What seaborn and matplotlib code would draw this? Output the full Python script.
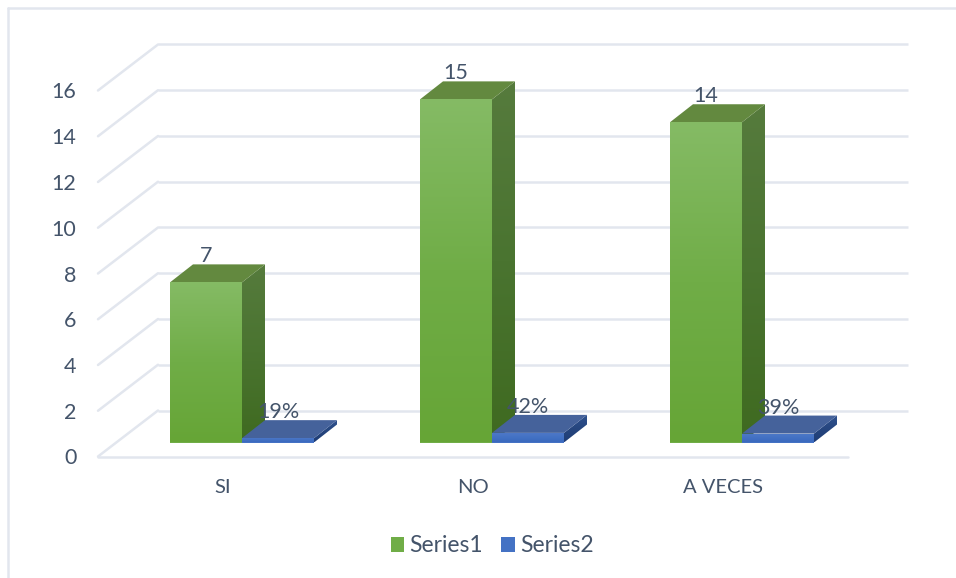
import numpy as np
import pandas as pd
import matplotlib
matplotlib.use("Agg")
import matplotlib.pyplot as plt
import seaborn as sns
from matplotlib.colors import LinearSegmentedColormap
from matplotlib.lines import Line2D
from matplotlib.patches import Patch, Polygon
from matplotlib.transforms import Affine2D, IdentityTransform

categories = ["SI", "NO", "A VECES"]
series_names = ["Series1", "Series2"]
series1 = [7, 15, 14]
series2 = [0.19, 0.42, 0.39]
series1_labels = ["7", "15", "14"]
series2_labels = ["19%", "42%", "39%"]
y_ticks = list(range(0, 17, 2))

W, H = 956, 578
TEXT = "#44546A"
GRID = "#E2E6EE"
STYLE = {
    "Series1": dict(base="#70AD47", front=["#85BB65", "#70AD47", "#66A536"],
                    side=["#567B3D", "#4A7430", "#3F6A20"], top="#63893F"),
    "Series2": dict(base="#4472C4", front=["#4E79C8", "#4472C4", "#3A69BE"],
                    side=["#2F528F", "#26467F", "#1F3D75"], top="#45629B"),
}

sns.set_theme(style="white")
plt.rcParams["font.family"] = ["Lato", "DejaVu Sans"]

fig = plt.figure(figsize=(W / 100, H / 100), dpi=100, facecolor="white")


def px_axes(left, baseline, width, height):
    return fig.add_axes([left / W, (H - baseline) / H, width / W, height / H])


wall = px_axes(98, 456.5, 750, 366)
ax = px_axes(117, 442.5, 750, 366)
wall.set_zorder(1)
ax.set_zorder(2)

df = pd.DataFrame({
    "category": categories * 2,
    "series": [series_names[0]] * 3 + [series_names[1]] * 3,
    "value": series1 + series2,
})
sns.barplot(data=df, x="category", y="value", hue="series", order=categories,
            hue_order=series_names, palette=[STYLE[s]["base"] for s in series_names],
            width=0.576, gap=0, dodge=True, legend=False, errorbar=None, ax=ax,
            saturation=1, linewidth=0)
for a in (wall, ax):
    a.set_xlim(-0.5, 2.5)
    a.set_ylim(0, 16)
ax.axis("off")

# front wall: tick labels and axis frame
wall.set_xticks(range(len(categories)), categories)
wall.set_yticks(y_ticks)
wall.set_xlabel("")
wall.set_ylabel("")
wall.patch.set_alpha(0)
sns.despine(ax=wall, left=True, bottom=True)
wall.tick_params(axis="both", length=0, labelsize=14.5, labelcolor=TEXT)
wall.tick_params(axis="y", labelsize=15.5, pad=15.5)
wall.tick_params(axis="x", pad=16.5)
wall.grid(False)

# perspective walls
to_back = wall.transData + Affine2D().translate(60, 46)
for v in y_ticks:
    wall.plot([-0.5, 2.5], [v, v], transform=to_back, color=GRID, lw=1.8,
              clip_on=False, zorder=1, solid_capstyle="butt")
    p0 = wall.transData.transform((-0.5, v))
    p1 = to_back.transform((-0.5, v))
    wall.add_line(Line2D([p0[0], p1[0]], [p0[1], p1[1]], transform=IdentityTransform(),
                         color=GRID, lw=1.8, clip_on=False, zorder=1))
wall.plot([-0.5, 2.5], [0, 0], color=GRID, lw=1.8, clip_on=False, zorder=1)


def shaded(colors, verts, zorder):
    cmap = LinearSegmentedColormap.from_list("c", colors)
    xs, ys = verts[:, 0], verts[:, 1]
    im = ax.imshow(np.linspace(0, 1, 256).reshape(-1, 1), cmap=cmap, aspect="auto",
                   extent=(xs.min(), xs.max(), ys.min(), ys.max()), origin="upper",
                   transform=IdentityTransform(), interpolation="bilinear", zorder=zorder)
    clip = Polygon(verts, closed=True, transform=IdentityTransform())
    im.set_clip_path(clip)
    im.set_clip_on(True)


DX, DY = 23, 18
fig.canvas.draw()
for s_idx, (name, container) in enumerate(zip(series_names, ax.containers)):
    st = STYLE[name]
    base_z = 3 + s_idx * 3
    for bar in container:
        x0, y0 = ax.transData.transform((bar.get_x(), 0))
        x1, y1 = ax.transData.transform((bar.get_x() + bar.get_width(), bar.get_height()))
        bar.set_zorder(base_z)
        shaded(st["side"], np.array([[x1, y0], [x1 + DX, y0 + DY], [x1 + DX, y1 + DY], [x1, y1]]), base_z)
        shaded(st["front"], np.array([[x0, y0], [x1, y0], [x1, y1], [x0, y1]]), base_z + 1)
        ax.add_patch(Polygon([[x0, y1], [x1, y1], [x1 + DX, y1 + DY], [x0 + DX, y1 + DY]],
                             closed=True, transform=IdentityTransform(), facecolor=st["top"],
                             edgecolor="none", zorder=base_z + 0.5, clip_on=False))
ax.set_xlim(-0.5, 2.5)
ax.set_ylim(0, 16)

for container, labels in zip(ax.containers, (series1_labels, series2_labels)):
    for bar, label in zip(container, labels):
        ax.annotate(label, (bar.get_x() + bar.get_width() / 2, bar.get_height()),
                    xytext=(0, 18.7), textcoords="offset points", ha="center", va="center",
                    fontsize=15.5, color=TEXT, zorder=20, annotation_clip=False)

# chart border
for xs, ys in (([8, 8], [8, H]), ([8, W], [8, 8])):
    fig.add_artist(Line2D(np.array(xs) / W, 1 - np.array(ys) / H, color=GRID, lw=1.8))

handles = [Patch(facecolor=STYLE[s]["base"], edgecolor="none", label=s) for s in series_names]
fig.legend(handles=handles, loc="center", bbox_to_anchor=(492 / W, 1 - 546 / H), ncols=2,
           frameon=False, fontsize=16.5, labelcolor=TEXT, handlelength=0.6, handleheight=0.6,
           handletextpad=0.22, columnspacing=0.78, borderpad=0)

fig.savefig("out.png", dpi=100, facecolor="white")
